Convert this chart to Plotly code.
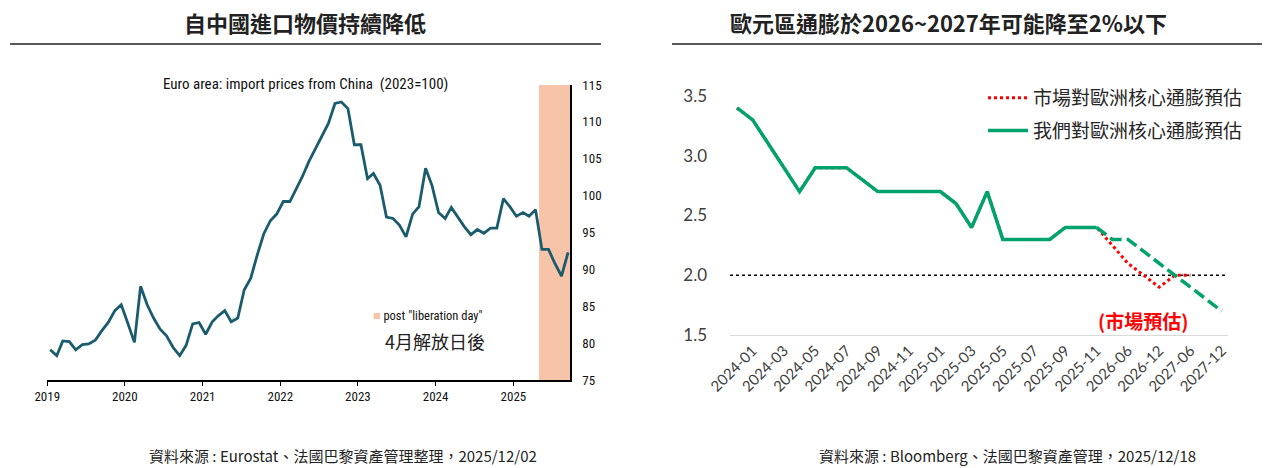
import plotly.graph_objects as go
import pandas as pd

W, H = 1264, 468

# ---------------- Left chart data: Euro area import prices from China (2023=100)
month_dates = pd.date_range("2019-01-01", "2025-09-01", freq="MS") + pd.Timedelta(days=14)
import_prices = [
    79.1, 78.3, 80.3, 80.2, 79.1, 79.8, 79.9, 80.4, 81.7, 82.8, 84.4, 85.2,      # 2019
    82.7, 80.1, 87.7, 85.2, 83.4, 81.9, 81.0, 79.4, 78.3, 79.7, 82.6, 82.8,      # 2020
    81.2, 82.9, 83.7, 84.4, 82.9, 83.4, 87.2, 88.8, 92.0, 94.8, 96.6, 97.5,      # 2021
    99.2, 99.2, 100.8, 102.6, 104.6, 106.4, 108.2, 109.8, 112.5, 112.7, 111.8, 106.9,  # 2022
    106.9, 102.3, 103.0, 101.4, 97.1, 96.9, 96.0, 94.4, 97.5, 98.5, 103.7, 101.4,     # 2023
    97.7, 96.9, 98.4, 97.1, 95.8, 94.7, 95.4, 94.9, 95.6, 95.6, 99.6, 98.5,      # 2024
    97.2, 97.7, 97.2, 98.1, 92.7, 92.7, 90.8, 89.1, 92.3,                        # 2025
]
year_ticks = ["2019-01-01", "2020-01-01", "2021-01-01", "2022-01-01",
              "2023-01-01", "2024-01-01", "2025-01-01"]
year_labels = ["2019", "2020", "2021", "2022", "2023", "2024", "2025"]
shade_start = "2025-05-01"
left_x_range = ["2018-12-31", "2025-09-24"]

# ---------------- Right chart data: Euro area core inflation
categories = ["2023-12",
              "2024-01", "2024-02", "2024-03", "2024-04", "2024-05", "2024-06",
              "2024-07", "2024-08", "2024-09", "2024-10", "2024-11", "2024-12",
              "2025-01", "2025-02", "2025-03", "2025-04", "2025-05", "2025-06",
              "2025-07", "2025-08", "2025-09", "2025-10", "2025-11",
              "2026-03", "2026-06", "2026-09", "2026-12",
              "2027-03", "2027-06", "2027-09", "2027-12"]
core_hist = [3.4, 3.3, 3.1, 2.9, 2.7, 2.9, 2.9, 2.9, 2.8, 2.7, 2.7, 2.7,
             2.7, 2.7, 2.6, 2.4, 2.7, 2.3, 2.3, 2.3, 2.3, 2.4, 2.4, 2.4]
market_fcst = [2.25, 2.1, 2.0, 1.9, 2.0, 2.0]           # 2026-03 .. 2027-06
our_fcst = [2.3, 2.3, 2.2, 2.1, 2.0, 1.9, 1.8, 1.7]      # 2026-03 .. 2027-12
right_tick_labels = ["2024-01", "2024-03", "2024-05", "2024-07", "2024-09", "2024-11",
                     "2025-01", "2025-03", "2025-05", "2025-07", "2025-09", "2025-11",
                     "2026-06", "2026-12", "2027-06", "2027-12"]
target_level = 2.0


def px(xp):
    return xp / W


def py(yp):
    return 1 - yp / H


NARROW = "Liberation Sans Narrow, Roboto Condensed, Roboto, sans-serif"
CJK = "Noto Sans CJK TC, Noto Sans, sans-serif"
NUM = "Lato, Noto Sans, sans-serif"
SHADE = "#F7C3A9"

fig = go.Figure()

# Left line
fig.add_trace(go.Scatter(
    x=month_dates, y=import_prices, mode="lines",
    line=dict(color="#1B5B6E", width=2.8),
    showlegend=False, xaxis="x", yaxis="y", hoverinfo="skip"))

# Right chart
n_hist = len(core_hist)
market_series = core_hist + market_fcst + [None] * (len(categories) - n_hist - len(market_fcst))
our_dashed = [None] * (n_hist - 1) + [core_hist[-1]] + our_fcst

fig.add_trace(go.Scatter(
    x=categories, y=market_series, mode="lines", name="市場對歐洲核心通膨預估",
    line=dict(color="#FF0000", width=3, dash="dot"),
    xaxis="x2", yaxis="y2", legendgroup="a"))
fig.add_trace(go.Scatter(
    x=categories[:n_hist], y=core_hist, mode="lines", name="我們對歐洲核心通膨預估",
    line=dict(color="#00A36C", width=3.5),
    xaxis="x2", yaxis="y2", legendgroup="b"))
fig.add_trace(go.Scatter(
    x=categories, y=our_dashed, mode="lines", showlegend=False,
    line=dict(color="#00A36C", width=3.5, dash="12px,5px"),
    xaxis="x2", yaxis="y2", legendgroup="b"))

shapes = [
    # title underlines
    dict(type="line", xref="paper", yref="paper", x0=px(10), x1=px(601), y0=py(44), y1=py(44),
         line=dict(color="#222222", width=1.5)),
    dict(type="line", xref="paper", yref="paper", x0=px(672), x1=px(1262), y0=py(44), y1=py(44),
         line=dict(color="#222222", width=1.5)),
    # shaded post liberation-day period
    dict(type="rect", xref="x", yref="y", x0=shade_start, x1=left_x_range[1], y0=75, y1=115,
         fillcolor=SHADE, line=dict(width=0), layer="below"),
    # 2% reference line
    dict(type="line", xref="x2 domain", yref="y2", x0=0, x1=1, y0=target_level, y1=target_level,
         line=dict(color="#000000", width=1.5, dash="dot"), layer="below"),
]


def ann(text, x, y, font, xanchor="center"):
    return dict(text=text, x=px(x), y=py(y), xref="paper", yref="paper", showarrow=False,
                xanchor=xanchor, yanchor="middle", font=font)


annotations = [
    ann("<b>自中國進口物價持續降低</b>", 305, 22, dict(family=CJK, size=22, color="#222222")),
    ann("<b>歐元區通膨於2026~2027年可能降至2%以下</b>", 948, 22, dict(family=CJK, size=22, color="#222222")),
    ann("Euro area: import prices from China\u00a0\u00a0(2023=100)", 305, 84,
        dict(family=NARROW, size=15, color="#111111")),
    ann(f"<span style='color:{SHADE}'>■</span>\u00a0post \"liberation day\"", 371, 315,
        dict(family=NARROW, size=12.5, color="#111111"), xanchor="left"),
    ann("4月解放日後", 435, 341, dict(family=CJK, size=18, color="#222222")),
    ann("<b>(市場預估)</b>", 1143, 320, dict(family=CJK, size=19, color="#FF0000")),
    ann("資料來源 : Eurostat、法國巴黎資產管理整理，2025/12/02", 343, 455,
        dict(family=CJK, size=15, color="#222222")),
    ann("資料來源 : Bloomberg、法國巴黎資產管理，2025/12/18", 1007, 455,
        dict(family=CJK, size=15, color="#222222")),
]

fig.update_layout(
    width=W, height=H, autosize=False,
    margin=dict(l=0, r=0, t=0, b=0, pad=0, autoexpand=False),
    paper_bgcolor="white", plot_bgcolor="white",
    shapes=shapes, annotations=annotations,
    xaxis=dict(domain=[px(47), px(570)], type="date", range=left_x_range,
               tickvals=year_ticks, ticktext=year_labels, automargin=False,
               showline=True, linecolor="#000000", linewidth=1.5,
               ticks="outside", ticklen=4, tickcolor="#000000",
               showgrid=False, zeroline=False,
               tickfont=dict(family=NARROW, size=13, color="#111111"),
               anchor="y"),
    yaxis=dict(domain=[py(380), py(85)], range=[75, 115], dtick=5, side="right",
               automargin=False,
               showline=True, linecolor="#000000", linewidth=1.5,
               showgrid=False, zeroline=False, ticks="", ticklabelstandoff=8,
               tickfont=dict(family=NARROW, size=13, color="#111111"),
               anchor="x"),
    xaxis2=dict(domain=[px(730), px(1228)], type="category", categoryorder="array",
                categoryarray=categories, range=[-0.45, 31.4], automargin=False,
                tickmode="array", tickvals=right_tick_labels, ticktext=right_tick_labels,
                tickangle=-45, showline=True, linecolor="#D9D9D9", linewidth=1.2,
                showgrid=False, zeroline=False, ticks="",
                tickfont=dict(family=NUM, size=15, color="#404040"),
                anchor="y2"),
    yaxis2=dict(domain=[py(335), py(96)], range=[1.5, 3.5], dtick=0.5, tickformat=".1f",
                showline=False, showgrid=False, zeroline=False, ticks="", automargin=False,
                ticklabelstandoff=22,
                tickfont=dict(family=NUM, size=17, color="#404040"),
                anchor="x2"),
    legend=dict(x=px(983), y=py(79), xanchor="left", yanchor="top",
                font=dict(family=CJK, size=19, color="#262626"),
                bgcolor="rgba(0,0,0,0)", itemwidth=40, tracegroupgap=5,
                traceorder="grouped"),
)

fig.write_html("out.html", config={"displayModeBar": False},
               post_script="document.body.style.margin='0';document.body.style.padding='0';")
